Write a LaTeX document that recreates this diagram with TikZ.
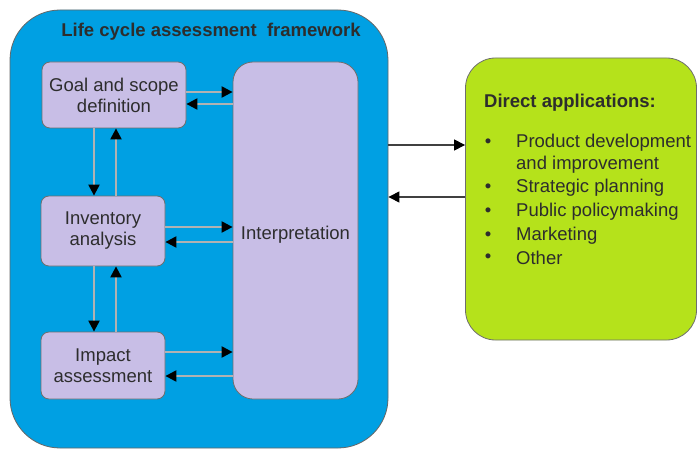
\documentclass[tikz,border=0pt]{standalone}
\usepackage{fontspec}
\setmainfont{Liberation Sans}
\usetikzlibrary{arrows.meta}
\definecolor{lcablue}{RGB}{0,160,227}
\definecolor{lav}{RGB}{200,190,230}
\definecolor{lime}{RGB}{181,226,27}
\definecolor{txt}{RGB}{45,45,45}
\definecolor{edge}{RGB}{110,110,110}
\begin{document}
\begin{tikzpicture}[x=1pt,y=-1pt,
  every node/.style={font=\fontsize{18.5}{21}\selectfont, text=txt},
  stepbox/.style={draw=edge, line width=0.8pt, fill=lav, rounded corners=8pt, align=center, inner sep=0pt},
  arr/.style={draw=gray!60, line width=2.2pt, -{Triangle[length=11pt,width=11pt,fill=black,color=black]}},
  outarr/.style={draw=black!75, line width=1.1pt, -{Triangle[length=11pt,width=11pt,fill=black,color=black]}}]
\useasboundingbox (0,0) rectangle (698,449);
\fill[white] (0,0) rectangle (698,449);
% frame
\node[draw=black!60, line width=0.8pt, fill=lcablue, rounded corners=50pt,
      minimum width=378pt, minimum height=438pt, inner sep=0pt] (frame) at (199,229) {};
\node[font=\fontsize{18.5}{21}\selectfont\bfseries] (title) at (211,32) {Life cycle assessment\ \ framework};
% boxes
\node[stepbox, minimum width=144pt, minimum height=66pt] (goal) at (114,95) {Goal and scope\\definition};
\node[stepbox, minimum width=124pt, minimum height=70pt] (inv) at (103,231) {Inventory\\analysis};
\node[stepbox, minimum width=124pt, minimum height=67pt] (imp) at (103,365.5) {Impact\\assessment};
\node[stepbox, rounded corners=20pt, minimum width=125pt, minimum height=337pt, text depth=0pt] (interp) at (295.5,230.5) {\raisebox{-5pt}{Interpretation}};
% apps
\node[draw=edge, line width=0.8pt, fill=lime, rounded corners=30pt,
      minimum width=231pt, minimum height=282pt, inner sep=0pt] (apps) at (581,199) {};
\node[anchor=west, inner sep=0pt, font=\fontsize{18.5}{21}\selectfont\bfseries] (apphead) at (484,103) {Direct applications:};
\foreach \i/\y/\t in {1/143/Product development, 3/188/Strategic planning, 4/212/Public policymaking, 5/236/Marketing, 6/258/Other}{
  \node[inner sep=0pt] (b\i) at (488,\y) {•};
  \node[anchor=west, inner sep=0pt] (it\i) at (516,\y) {\t};
}
\node[anchor=west, inner sep=0pt] (it2) at (516,165) {and improvement};
% helper coordinates
\coordinate (xa) at (94,0);
\coordinate (xb) at (116,0);
\coordinate (ya) at (0,92);
\coordinate (yb) at (0,104);
\coordinate (yc) at (0,227);
\coordinate (yd) at (0,242);
\coordinate (ye) at (0,352);
\coordinate (yf) at (0,376);
\coordinate (yg) at (0,145);
\coordinate (yh) at (0,197);
% connectors
\draw[arr] (goal.east |- ya) -- (interp.west |- ya);
\draw[arr] (interp.west |- yb) -- (goal.east |- yb);
\draw[arr] (goal.south -| xa) -- (inv.north -| xa);
\draw[arr] (inv.north -| xb) -- (goal.south -| xb);
\draw[arr] (inv.east |- yc) -- (interp.west |- yc);
\draw[arr] (interp.west |- yd) -- (inv.east |- yd);
\draw[arr] (inv.south -| xa) -- (imp.north -| xa);
\draw[arr] (imp.north -| xb) -- (inv.south -| xb);
\draw[arr] (imp.east |- ye) -- (interp.west |- ye);
\draw[arr] (interp.west |- yf) -- (imp.east |- yf);
\draw[outarr] (frame.east |- yg) -- (apps.west |- yg);
\draw[outarr] (apps.west |- yh) -- (frame.east |- yh);
\end{tikzpicture}
\end{document}
